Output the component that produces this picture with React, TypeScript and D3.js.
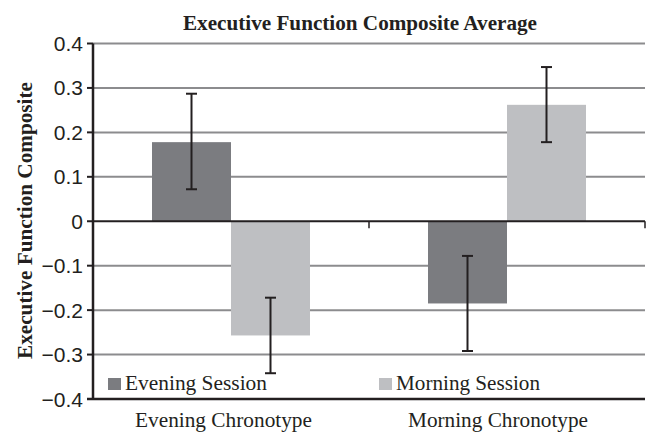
import React from "react";
import * as d3 from "d3";

const categories = ["Evening Chronotype", "Morning Chronotype"];
const seriesNames = ["Evening Session", "Morning Session"];
const eveningSession = [0.178, -0.185];
const morningSession = [-0.257, 0.262];
const eveningErrLow = [0.072, -0.292];
const eveningErrHigh = [0.287, -0.078];
const morningErrLow = [-0.342, 0.178];
const morningErrHigh = [-0.172, 0.347];
const yTicks = [0.4, 0.3, 0.2, 0.1, 0, -0.1, -0.2, -0.3, -0.4];
const yTickLabels = ["0.4", "0.3", "0.2", "0.1", "0", "\u22120.1", "\u22120.2", "\u22120.3", "\u22120.4"];
const title = "Executive Function Composite Average";
const yTitle = "Executive Function Composite";

export default function App() {
  const W = 654, H = 432;
  const left = 93, right = 645, top = 43.5, bottom = 399;
  const colors = ["#7b7c80", "#bebfc2"];
  const y = d3.scaleLinear().domain([-0.4, 0.4]).range([bottom, top]);
  const x0 = d3.scaleBand().domain(categories).range([left, right]).paddingInner(0).paddingOuter(0);
  const bw = 79;
  const x1 = d3.scaleBand().domain(seriesNames).range([0, bw * 2]);
  const groupOff = (x0.bandwidth() - bw * 2) / 2;
  const values = [eveningSession, morningSession];
  const lows = [eveningErrLow, morningErrLow];
  const highs = [eveningErrHigh, morningErrHigh];
  const serif = "'Liberation Serif', 'Times New Roman', serif";
  const sans = "'Liberation Sans', Arial, sans-serif";
  const legendX = [108, 379];
  const legendLen = [142, 144];
  const catLabelX = [135, 408];
  const catLen = [177, 180];
  return (
    <svg width={W} height={H} style={{ position: "absolute", left: 0, top: 0, background: "#fff" }}>
      <text x={183} y={30} textLength={354} lengthAdjust="spacingAndGlyphs" fontFamily={serif} fontWeight="bold" fontSize={20} fill="#231f20">{title}</text>
      {yTicks.map((t, i) => (
        <g key={i}>
          {t !== 0 && t !== -0.4 && (
            <line x1={left} x2={right} y1={y(t)} y2={y(t)} stroke="#8c8c8e" strokeWidth={2} />
          )}
          <line x1={left - 6} x2={left} y1={y(t)} y2={y(t)} stroke="#231f20" strokeWidth={2} />
          <text x={83} y={y(t)} dy="0.36em" textAnchor="end" fontFamily={sans} fontSize={21} fill="#231f20">{yTickLabels[i]}</text>
        </g>
      ))}
      {categories.map((c, ci) =>
        seriesNames.map((s, si) => {
          const v = values[si][ci];
          const bx = (x0(c) as number) + groupOff + (x1(s) as number);
          const cx = bx + x1.bandwidth() / 2;
          return (
            <g key={c + s}>
              <rect x={bx} width={x1.bandwidth()} y={Math.min(y(v), y(0))} height={Math.abs(y(v) - y(0))} fill={colors[si]} />
              <line x1={cx} x2={cx} y1={y(lows[si][ci])} y2={y(highs[si][ci])} stroke="#231f20" strokeWidth={2} />
              <line x1={cx - 5.5} x2={cx + 5.5} y1={y(lows[si][ci])} y2={y(lows[si][ci])} stroke="#231f20" strokeWidth={2} />
              <line x1={cx - 5.5} x2={cx + 5.5} y1={y(highs[si][ci])} y2={y(highs[si][ci])} stroke="#231f20" strokeWidth={2} />
            </g>
          );
        })
      )}
      <line x1={left} x2={right} y1={y(0)} y2={y(0)} stroke="#231f20" strokeWidth={2} />
      {[left + x0.bandwidth(), right].map((tx, i) => (
        <line key={i} x1={tx} x2={tx} y1={y(0)} y2={y(0) + 7} stroke="#231f20" strokeWidth={1.5} />
      ))}
      <line x1={left} x2={left} y1={top} y2={bottom} stroke="#231f20" strokeWidth={2.5} />
      <line x1={left - 6} x2={right} y1={bottom} y2={bottom} stroke="#231f20" strokeWidth={2.5} />
      {seriesNames.map((s, si) => (
        <g key={s}>
          <rect x={legendX[si]} y={378} width={13} height={12} fill={colors[si]} />
          <text x={legendX[si] + 17} y={390} textLength={legendLen[si]} lengthAdjust="spacingAndGlyphs" fontFamily={serif} fontSize={20} fill="#231f20">{s}</text>
        </g>
      ))}
      {categories.map((c, ci) => (
        <text key={c} x={catLabelX[ci]} y={427} textLength={catLen[ci]} lengthAdjust="spacingAndGlyphs" fontFamily={serif} fontSize={20} fill="#231f20">{c}</text>
      ))}
      <text transform={`translate(32, 359) rotate(-90)`} textLength={277} lengthAdjust="spacingAndGlyphs" fontFamily={serif} fontWeight="bold" fontSize={20} fill="#231f20">{yTitle}</text>
    </svg>
  );
}
